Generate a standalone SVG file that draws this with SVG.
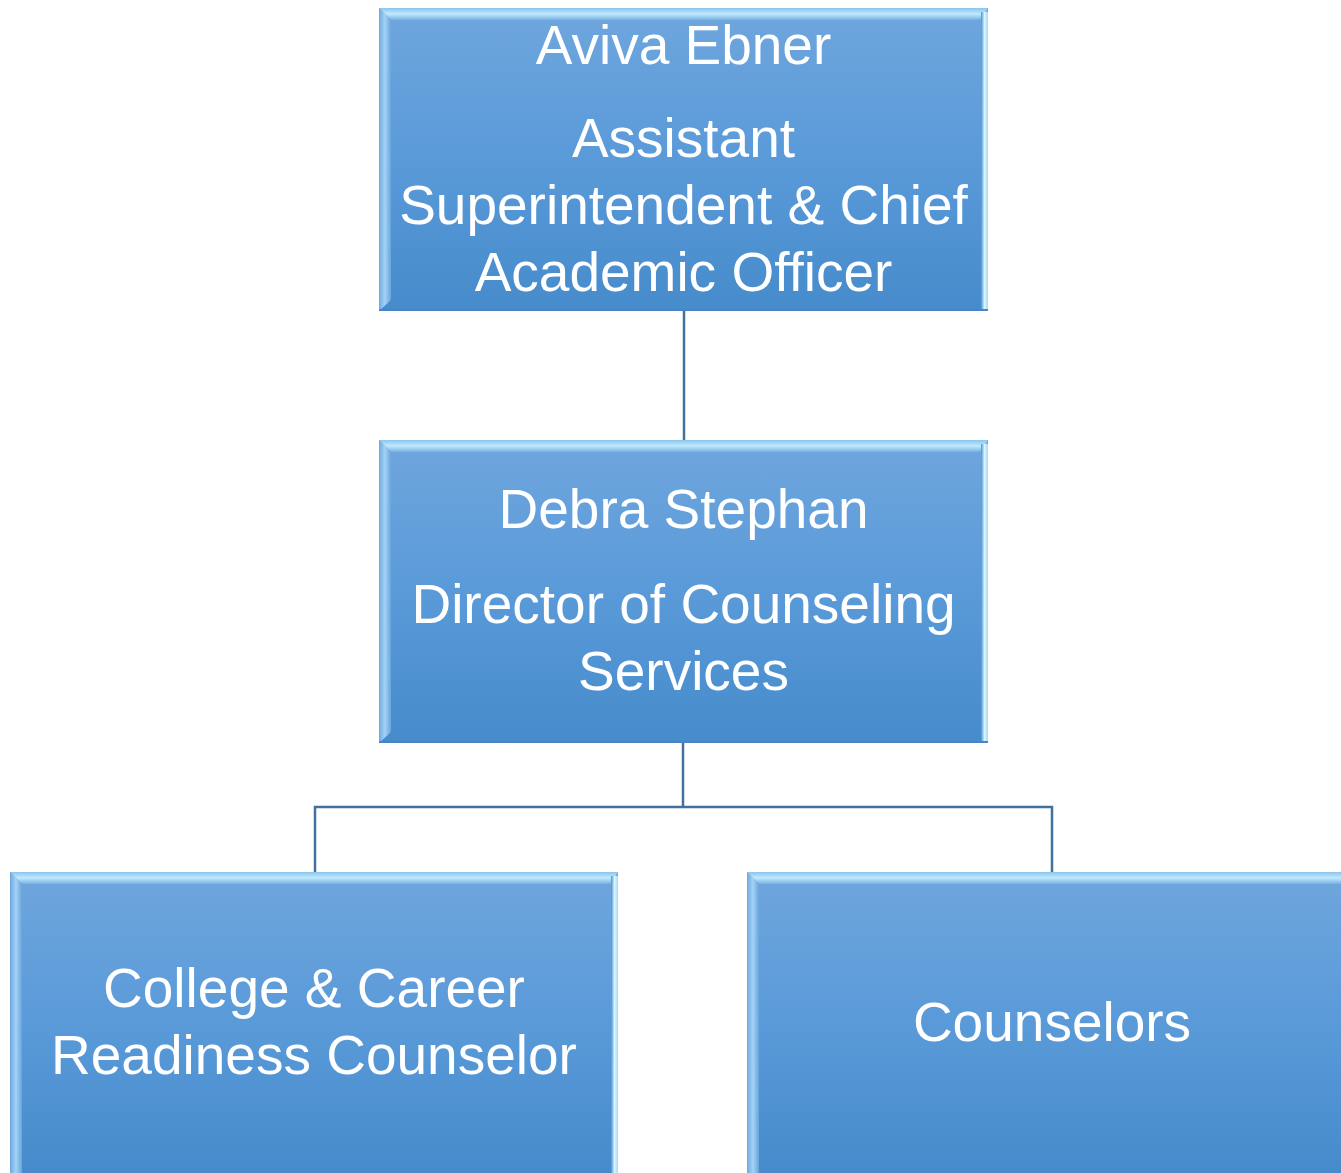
<svg xmlns="http://www.w3.org/2000/svg" width="1341" height="1173" viewBox="0 0 1341 1173">
<style>
.t{font-family:"Liberation Sans","Open Sans",sans-serif;font-size:55px;fill:#ffffff;text-anchor:middle}
.c{stroke:#41719c;stroke-width:2.5;fill:none}
</style>
<defs>
<linearGradient id="g" x1="0" y1="0" x2="0" y2="1">
<stop offset="0" stop-color="#6fa6dd"/>
<stop offset="0.5" stop-color="#5a9ad9"/>
<stop offset="1" stop-color="#468bcb"/>
</linearGradient>
<linearGradient id="tb" x1="0" y1="0" x2="0" y2="1">
<stop offset="0" stop-color="#8ec3ee"/>
<stop offset="0.5" stop-color="#bdeafc"/>
<stop offset="1" stop-color="#78b0e2"/>
</linearGradient>
<linearGradient id="lb" x1="0" y1="0" x2="1" y2="0">
<stop offset="0" stop-color="#6fa8e0"/>
<stop offset="0.5" stop-color="#a3d3f6"/>
<stop offset="1" stop-color="#6aa3dc"/>
</linearGradient>
<linearGradient id="rb" x1="0" y1="0" x2="1" y2="0">
<stop offset="0" stop-color="#4d90d0"/>
<stop offset="0.5" stop-color="#d8f6ff"/>
<stop offset="1" stop-color="#a9d9f4"/>
</linearGradient>
</defs>
<g id="connectors">
<line class="c" x1="684" y1="311" x2="684" y2="440"/>
<polyline class="c" points="683,743 683,807"/>
<polyline class="c" points="315,872 315,807 1052,807 1052,872"/>
</g>
<g id="node-ebner">
<rect x="379" y="8" width="609" height="303" fill="url(#g)"/>
<polygon points="379,8 988,8 980,20 391,20" fill="url(#tb)"/>
<polygon points="379,8 391,20 391,300 379,311" fill="url(#lb)"/>
<rect x="981" y="12" width="7" height="299" fill="url(#rb)"/>
<rect x="379" y="309" width="609" height="2" fill="#4a85c0"/>
<text class="t" x="683.5" y="64">Aviva Ebner</text>
<text class="t" x="683.5" y="157">Assistant</text>
<text class="t" x="683.5" y="224">Superintendent &amp; Chief</text>
<text class="t" x="683.5" y="291">Academic Officer</text>
</g>
<g id="node-stephan">
<rect x="379" y="440" width="609" height="303" fill="url(#g)"/>
<polygon points="379,440 988,440 980,452 391,452" fill="url(#tb)"/>
<polygon points="379,440 391,452 391,732 379,743" fill="url(#lb)"/>
<rect x="981" y="444" width="7" height="299" fill="url(#rb)"/>
<rect x="379" y="741" width="609" height="2" fill="#4a85c0"/>
<text class="t" x="683.5" y="528">Debra Stephan</text>
<text class="t" x="683.5" y="623">Director of Counseling</text>
<text class="t" x="683.5" y="690">Services</text>
</g>
<g id="node-college">
<rect x="10" y="872" width="608" height="301" fill="url(#g)"/>
<polygon points="10,872 618,872 610,884 22,884" fill="url(#tb)"/>
<polygon points="10,872 22,884 22,1173 10,1173" fill="url(#lb)"/>
<rect x="611" y="876" width="7" height="297" fill="url(#rb)"/>
<text class="t" x="314" y="1007">College &amp; Career</text>
<text class="t" x="314" y="1074">Readiness Counselor</text>
</g>
<g id="node-counselors">
<rect x="747" y="872" width="600" height="301" fill="url(#g)"/>
<polygon points="747,872 1341,872 1341,884 759,884" fill="url(#tb)"/>
<polygon points="747,872 759,884 759,1173 747,1173" fill="url(#lb)"/>
<text class="t" x="1052" y="1041">Counselors</text>
</g>
</svg>
